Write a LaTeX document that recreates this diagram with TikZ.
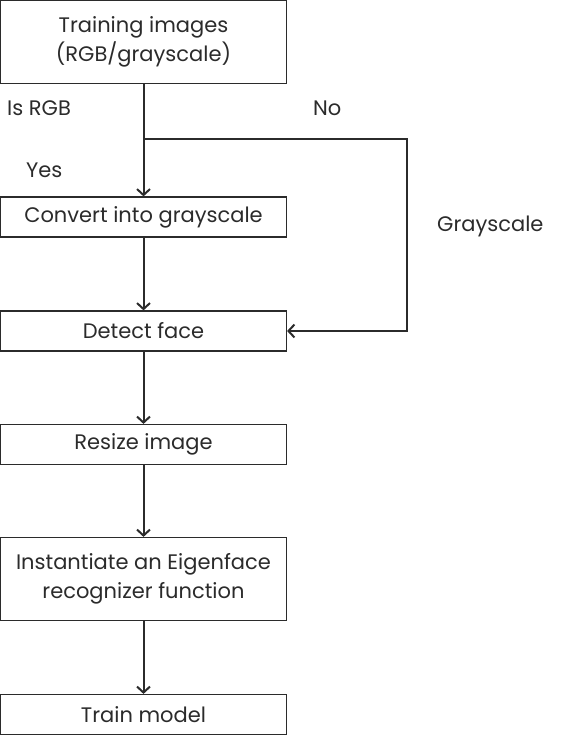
\documentclass[tikz,border=0pt]{standalone}
\usepackage{fontspec}
\setmainfont{Poppins}
\usepackage{tikz}
\usetikzlibrary{arrows.meta}
\definecolor{ink}{HTML}{2B2B2B}
\tikzset{ step_box/.style = {rectangle, draw=ink, line width=1.2pt, minimum width=286pt, align=center, text=ink, font=\fontsize{21}{29}\selectfont} }
\tikzset{ flow/.style = {draw=ink, line width=2pt, -{Straight Barb[length=6pt,width=13pt,line width=2pt]}} }
\tikzset{ tag/.style = {text=ink, anchor=west, inner sep=0pt, font=\fontsize{21}{24}\selectfont} }

\begin{document}
\begin{tikzpicture}[x=1pt,y=1pt]
\useasboundingbox (0,0) rectangle (560,-736);
\node[step_box, minimum height=83pt] (train) at (143.5,-42) {Training images\\(RGB/grayscale)};
\node[step_box, minimum height=40pt] (gray) at (143.5,-217) {Convert into grayscale};
\node[step_box, minimum height=40pt] (face) at (143.5,-331) {Detect face};
\node[step_box, minimum height=40pt] (resize) at (143.5,-444.5) {Resize image};
\node[step_box, minimum height=83pt] (eigen) at (143.5,-579) {Instantiate an Eigenface\\recognizer function};
\node[step_box, minimum height=40pt] (model) at (143.5,-714.5) {Train model};
\coordinate (split) at (143.5,-139);
\coordinate (corner) at (407,-139);
\node[tag] (isrgb) at (7,-108) {Is RGB};
\node[tag] (yes) at (26,-170) {Yes};
\node[tag] (no) at (313,-108) {No};
\node[tag] (grayscale) at (437,-226) {Grayscale};
\draw[flow] (train) -- (gray);
\draw[flow] (split) -- (corner) |- (face);
\draw[flow] (gray) -- (face);
\draw[flow] (face) -- (resize);
\draw[flow] (resize) -- (eigen);
\draw[flow] (eigen) -- (model);
\end{tikzpicture}
\end{document}
